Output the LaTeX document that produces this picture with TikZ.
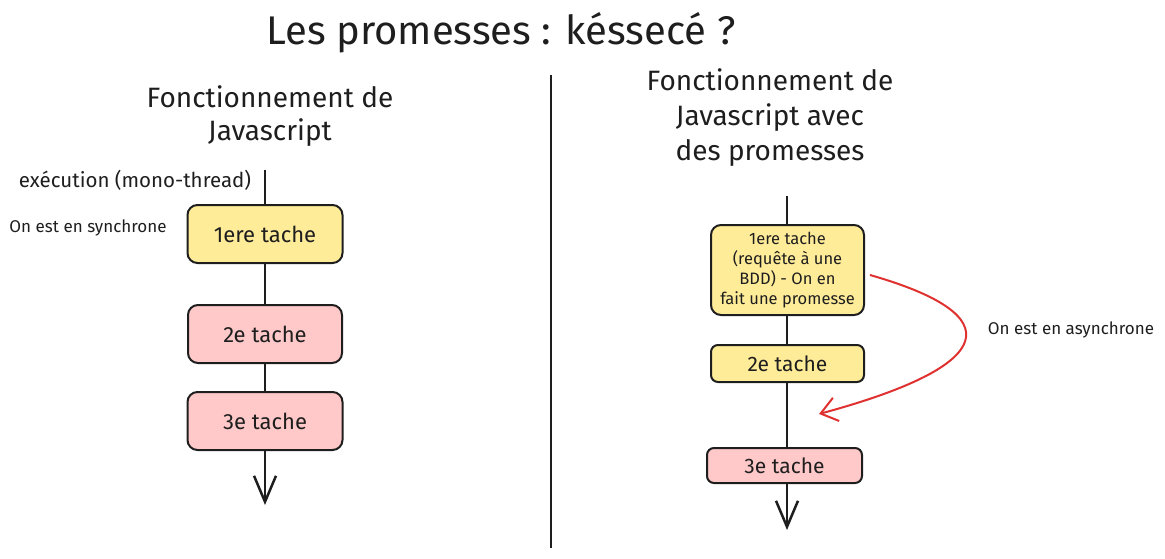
\documentclass[tikz,border=0pt]{standalone}
\usepackage{fontspec}
\setmainfont{Fira Sans}
\usetikzlibrary{arrows.meta}
\definecolor{ink}{HTML}{1E1E1E}
\definecolor{yel}{HTML}{FFEC99}
\definecolor{pnk}{HTML}{FFC9C9}
\definecolor{red}{HTML}{E03131}
\tikzset{
  fs/.style={font=\fontsize{#1}{#1}\selectfont},
  task/.style={draw=ink, line width=2pt, rounded corners=10pt, inner sep=0pt, align=center, text=ink},
  flow/.style={draw=ink, line width=2.5pt},
  flowarrow/.style={flow, -{Straight Barb[length=26pt,width=22pt,line width=2.5pt]}},
  label/.style={text=ink, inner sep=0pt, align=center}
}
\begin{document}
\begin{tikzpicture}[x=1pt,y=-1pt]
\useasboundingbox (0,0) rectangle (1165,559);
% title
\node[label, fs=40] (title) at (501,33) {Les promesses : késsecé ?};
% divider
\coordinate (dtop) at (551,75);
\coordinate (dbot) at (551,548);
\draw[ink, line width=2.5pt] (dtop) -- (dbot);
% left side
\node[label, font=\fontsize{28}{33}\selectfont] (lhead) at (270,116) {Fonctionnement de\\Javascript};
\node[label, fs=20.5] (exec) at (135,180) {exécution (mono-thread)};
\node[label, fs=17] (sync) at (88,228) {On est en synchrone};
\node[task, fill=yel, minimum width=155pt, minimum height=58pt, fs=22] (l1) at (265,234) {1ere tache};
\node[task, fill=pnk, minimum width=154pt, minimum height=58pt, fs=22] (l2) at (265,334) {2e tache};
\node[task, fill=pnk, minimum width=155pt, minimum height=58pt, fs=22] (l3) at (265,421) {3e tache};
\coordinate (ltop) at (265,170);
\coordinate (lbot) at (265,505);
\draw[flow] (ltop) -- (l1);
\draw[flow] (l1) -- (l2);
\draw[flow] (l2) -- (l3);
\draw[flowarrow] (l3) -- (lbot);
% right side
\node[label, font=\fontsize{28}{35}\selectfont] (rhead) at (770,118) {Fonctionnement de\\Javascript avec\\des promesses};
\node[task, fill=yel, minimum width=153pt, minimum height=90pt, font=\fontsize{16.5}{20}\selectfont] (r1) at (787.5,270) {1ere tache\\(requête à une\\BDD) - On en\\fait une promesse};
\node[task, fill=yel, minimum width=153pt, minimum height=37pt, rounded corners=7pt, fs=21] (r2) at (787.5,363.5) {2e tache};
\node[task, fill=pnk, minimum width=155pt, minimum height=35pt, rounded corners=7pt, fs=21] (r3) at (784.5,465.5) {3e tache};
\coordinate (rtop) at (787,196);
\coordinate (rbot) at (787,530);
\draw[flow] (rtop) -- (rtop |- r1.north);
\draw[flow] (rtop |- r1.south) -- (rtop |- r2.north);
\draw[flow] (rtop |- r2.south) -- (rtop |- r3.north);
\draw[flowarrow] (rtop |- r3.south) -- (rbot);
\node[label, fs=17] (async) at (1071,330) {On est en asynchrone};
\coordinate (astart) at (870,275);
\coordinate (aend) at (819,414);
\draw[red, line width=2pt, -{Straight Barb[length=16pt,width=24pt,line width=2pt]}] (astart) .. controls (1010,315) and (1000,365) .. (aend);
\end{tikzpicture}
\end{document}
